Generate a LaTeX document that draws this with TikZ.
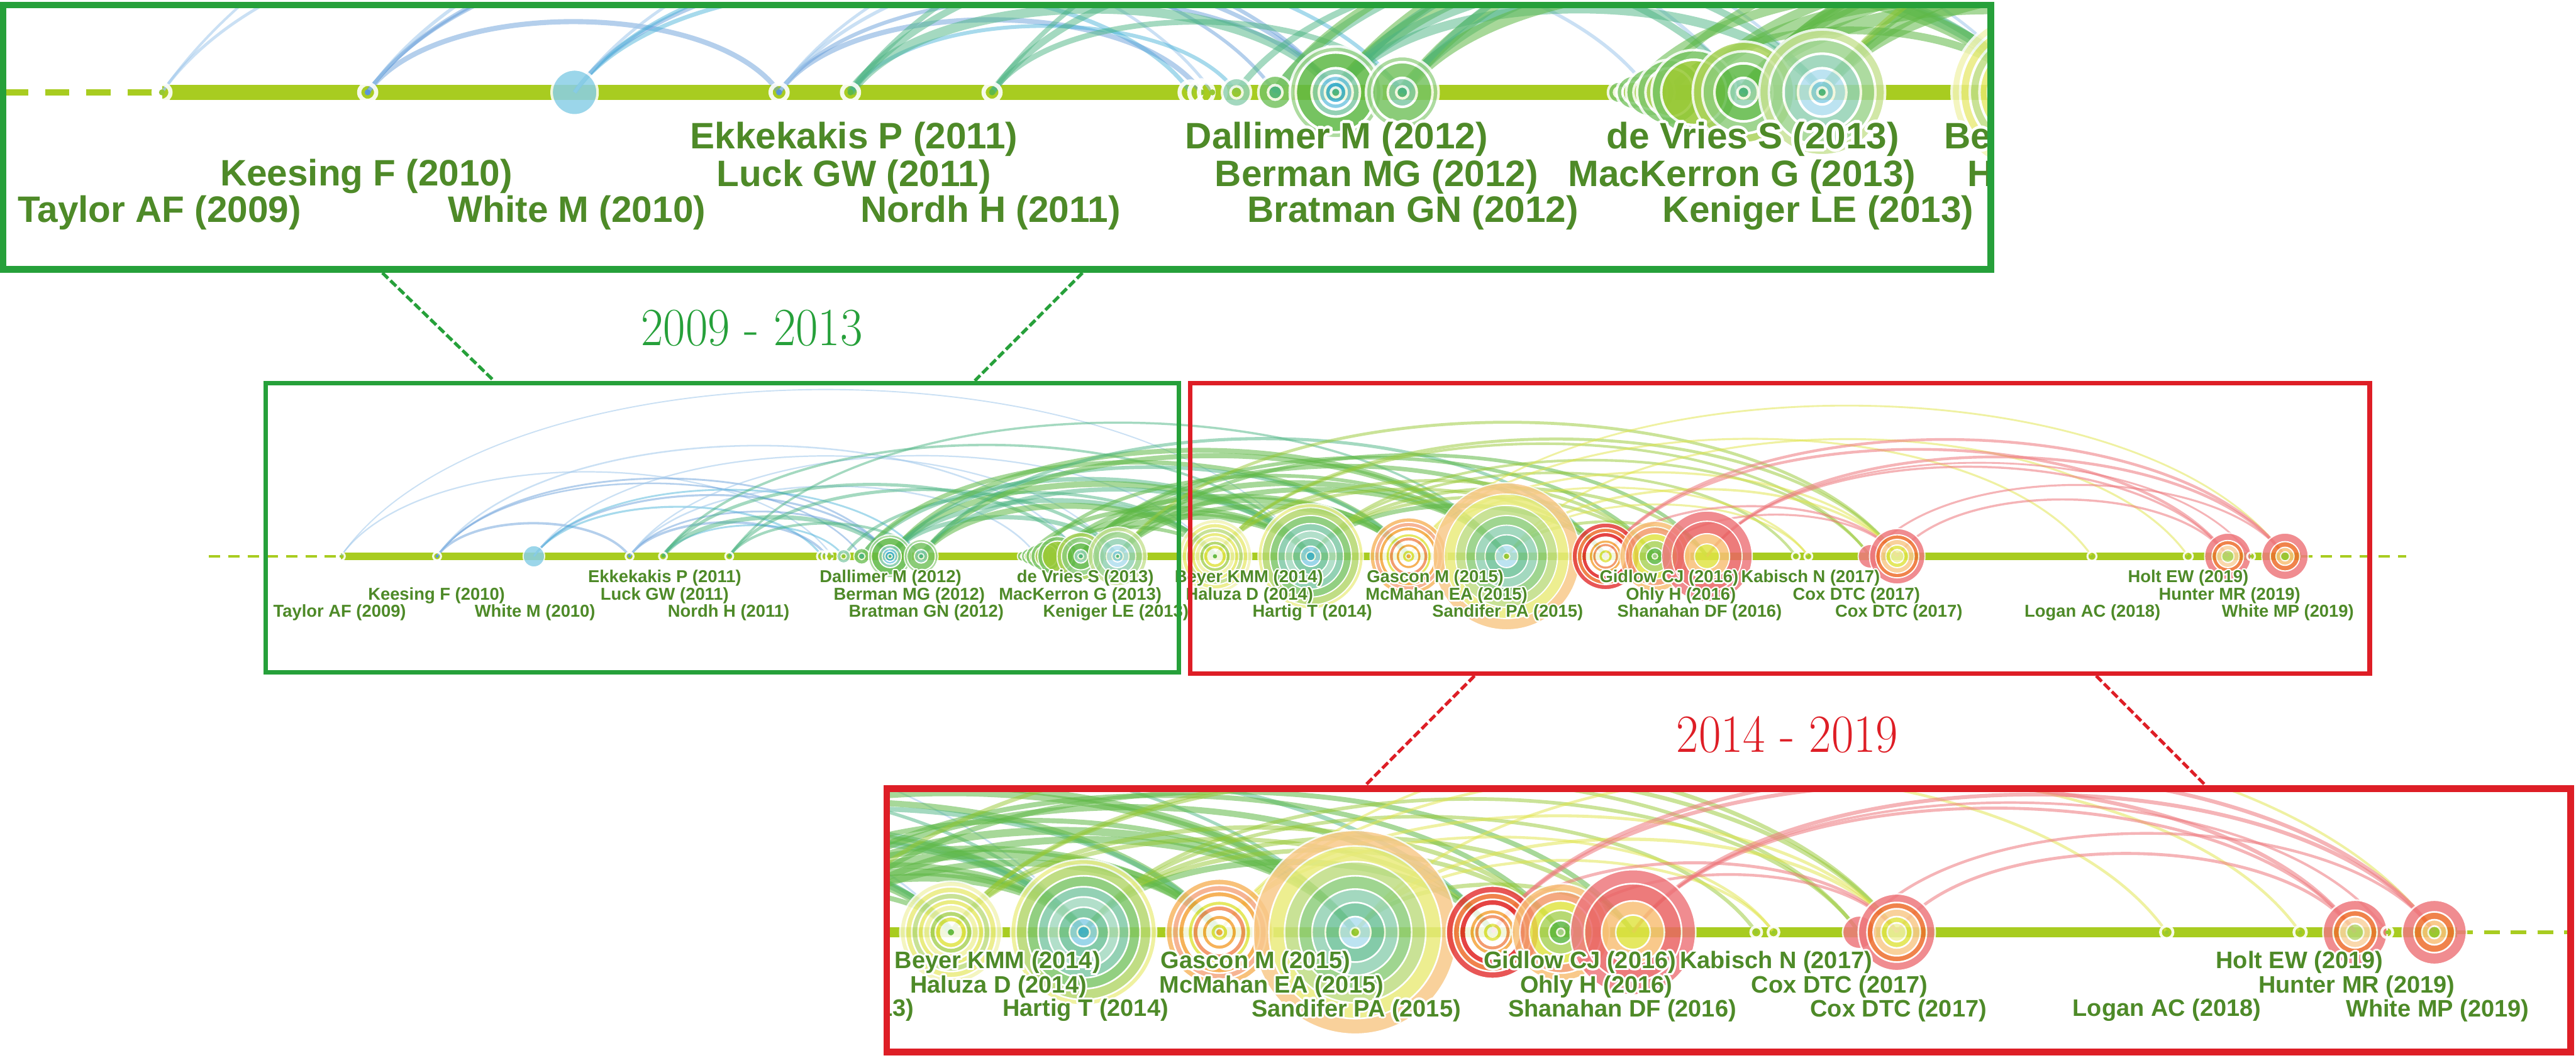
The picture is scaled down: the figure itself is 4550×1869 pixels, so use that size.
\documentclass[tikz,border=0pt]{standalone}
\usepackage{fontspec}
\usepackage[copies]{contour}
\newfontfamily\lblfont{Liberation Sans}
\usetikzlibrary{calc}
\contourlength{0.7pt}

\definecolor{tlgreen}{RGB}{38,160,58}
\definecolor{tlred}{RGB}{222,30,38}
\definecolor{lblgreen}{RGB}{78,138,40}
\definecolor{axislime}{RGB}{168,204,32}
\definecolor{y09}{RGB}{160,200,235}
\definecolor{y10}{RGB}{90,150,215}
\definecolor{y11}{RGB}{60,175,215}
\definecolor{y12}{RGB}{75,180,130}
\definecolor{y13}{RGB}{95,185,70}
\definecolor{y14}{RGB}{150,200,50}
\definecolor{y15}{RGB}{225,228,70}
\definecolor{y16}{RGB}{245,165,60}
\definecolor{y17}{RGB}{238,110,45}
\definecolor{y18}{RGB}{225,35,35}
\definecolor{y19}{RGB}{238,120,125}

\tikzset{
  zoombox/.style={draw=#1, rectangle, inner sep=0pt},
  zoomlink/.style={draw=#1, line width=1.6pt, dash pattern=on 4pt off 1.6pt},
  yearlbl/.style={font=\fontsize{27}{30}\selectfont, inner sep=0pt},
  reflbl/.style={font=\lblfont\bfseries\fontsize{8.65}{9}\selectfont,
    text=lblgreen, inner sep=0pt},
  axisbar/.style={draw=axislime, line width=3.6pt*\tls},
  axisdash/.style={draw=axislime, line width=1.5pt*\tls,
    dash pattern=on \dshon pt off \dshoff pt},
  arclblue/.style={draw=y09, draw opacity=0.55},
  arcblue/.style={draw=y10, draw opacity=0.45},
  arccyan/.style={draw=y11, draw opacity=0.45},
  arcteal/.style={draw=y12, draw opacity=0.5},
  arcgreen/.style={draw=y13, draw opacity=0.55},
  arclime/.style={draw=y14, draw opacity=0.5},
  arcyellow/.style={draw=y15, draw opacity=0.5},
  arcpink/.style={draw=y19, draw opacity=0.55},
}

\newcommand\tls{1}
% citation link between two nodes on the time line
\newcommand\citearc[4]{%
  \draw[#1, line width=#4pt*\tls] (#2)
    .. controls ($(#2)!0.28!55:(#3)$) and ($(#3)!0.28!-55:(#2)$) .. (#3);}
% tree-ring node, rings listed outside in
\newcommand\ringnode[2]{%
  \begin{scope}[transparency group, opacity=0.85]
    \foreach \r/\c in {#2}{
      \fill[\c] (#1) circle[radius=\r];
      \draw[white, line width=0.6pt*\tls] (#1) circle[radius=\r];
    }
  \end{scope}}
\newcommand\smallnode[3]{%
  \fill[#3] (#1) circle[radius=2.5];
  \draw[white, line width=1pt*\tls, opacity=0.9] (#1) circle[radius=#2];}

\newcommand\timeline{%
  \pgfmathsetmacro\dshon{5.7*\tls}\pgfmathsetmacro\dshoff{4*\tls}%
  \coordinate (axL) at (369,983);
  \coordinate (axE) at (4065,983);
  \coordinate (axR) at (4250,983);
  \foreach \n/\x in {taylor/602, keesing/772, whitem/943, ekkek/1112,
      luck/1171, nordh/1288, d1/1452, d2/1461, d3/1470, d4/1490, d5/1522,
      dallimer/1572, berman/1627, v1/1806, v2/1818, v3/1832, v4/1848,
      v5/1868, devries/1909, keniger/1974, beyer/2146, hartig/2315,
      gascon/2488, sandifer/2661, gidlow/2836, ohly/2923, shanahan/3015,
      s1/3172, s2/3194, kabisch/3303, cox/3351, logan/3695, holt/3865,
      hunter/3935, h2/3976, whitemp/4036}
    \coordinate (\n) at (\x,983);

  % time axis
  \draw[axisdash] (axL) -- (taylor);
  \draw[axisbar] (taylor) -- (axE);
  \draw[axisdash] (axE) -- (axR);

  % co-citation links
  \citearc{arclblue}{taylor}{d3}{0.7}
  \citearc{arclblue}{taylor}{hartig}{0.6}
  \citearc{arcblue}{keesing}{ekkek}{1.2}
  \citearc{arcblue}{keesing}{d5}{0.8}
  \citearc{arcblue}{keesing}{dallimer}{0.9}
  \citearc{arclblue}{keesing}{devries}{0.8}
  \citearc{arccyan}{whitem}{d1}{1.0}
  \citearc{arcblue}{whitem}{dallimer}{1.0}
  \citearc{arccyan}{whitem}{berman}{0.9}
  \citearc{arclblue}{whitem}{keniger}{0.7}
  \citearc{arcblue}{ekkek}{d2}{1.2}
  \citearc{arcblue}{ekkek}{dallimer}{0.9}
  \citearc{arclblue}{ekkek}{v3}{0.8}
  \citearc{arclblue}{ekkek}{beyer}{0.7}
  \citearc{arccyan}{luck}{d4}{0.9}
  \citearc{arcteal}{luck}{dallimer}{2.2}
  \citearc{arcteal}{luck}{devries}{1.6}
  \citearc{arcteal}{luck}{hartig}{1.2}
  \citearc{arcteal}{nordh}{berman}{1.3}
  \citearc{arcteal}{nordh}{keniger}{1.6}
  \citearc{arcteal}{nordh}{sandifer}{1.1}
  \citearc{arcteal}{d4}{beyer}{1.5}
  \citearc{arcteal}{d5}{hartig}{2.2}
  \citearc{arcgreen}{d5}{gascon}{2.2}
  \citearc{arcgreen}{dallimer}{hartig}{3}
  \citearc{arcgreen}{dallimer}{sandifer}{2.5}
  \citearc{arcteal}{dallimer}{beyer}{2.4}
  \citearc{arcteal}{dallimer}{gascon}{1.8}
  \citearc{arcteal}{dallimer}{keniger}{2.2}
  \citearc{arcgreen}{berman}{sandifer}{2.5}
  \citearc{arcteal}{berman}{hartig}{2.2}
  \citearc{arcgreen}{berman}{beyer}{3}
  \citearc{arcteal}{berman}{gidlow}{1.6}
  \citearc{arcgreen}{v2}{hartig}{2.2}
  \citearc{arcgreen}{v3}{sandifer}{1.8}
  \citearc{arcgreen}{v5}{hartig}{2.6}
  \citearc{arcgreen}{v5}{gascon}{2.2}
  \citearc{arcgreen}{devries}{hartig}{3}
  \citearc{arcgreen}{devries}{gascon}{3.2}
  \citearc{arcgreen}{devries}{sandifer}{2.8}
  \citearc{arcgreen}{devries}{gidlow}{2.2}
  \citearc{arcgreen}{devries}{ohly}{1.8}
  \citearc{arcgreen}{keniger}{sandifer}{2.5}
  \citearc{arcgreen}{keniger}{shanahan}{1.8}
  \citearc{arclime}{keniger}{cox}{1.5}
  \citearc{arcgreen}{keniger}{gascon}{2.5}
  \citearc{arcgreen}{v4}{beyer}{1.8}
  \citearc{arclime}{beyer}{ohly}{1.6}
  \citearc{arclime}{beyer}{gidlow}{1.6}
  \citearc{arclime}{beyer}{kabisch}{1.3}
  \citearc{arclime}{beyer}{cox}{1.5}
  \citearc{arclime}{hartig}{ohly}{1.6}
  \citearc{arclime}{hartig}{shanahan}{1.6}
  \citearc{arclime}{hartig}{s1}{1.3}
  \citearc{arclime}{hartig}{kabisch}{1.3}
  \citearc{arcgreen}{hartig}{gidlow}{2.2}
  \citearc{arcyellow}{gascon}{s2}{1}
  \citearc{arcyellow}{gascon}{cox}{1.1}
  \citearc{arcyellow}{gascon}{logan}{1}
  \citearc{arclime}{sandifer}{shanahan}{1.5}
  \citearc{arcyellow}{sandifer}{s2}{1}
  \citearc{arcyellow}{sandifer}{cox}{1.2}
  \citearc{arcyellow}{sandifer}{holt}{1}
  \citearc{arcyellow}{gascon}{whitemp}{0.9}
  \citearc{arcpink}{gidlow}{cox}{1.1}
  \citearc{arcpink}{gidlow}{hunter}{1.4}
  \citearc{arcpink}{gidlow}{whitemp}{1.4}
  \citearc{arcpink}{shanahan}{whitemp}{1.4}
  \citearc{arcpink}{shanahan}{hunter}{1.1}
  \citearc{arcpink}{cox}{hunter}{1.1}
  \citearc{arcpink}{ohly}{cox}{1}
  \citearc{arcpink}{kabisch}{whitemp}{1}
  \citearc{arcpink}{shanahan}{h2}{0.9}

  % references
  \smallnode{taylor}{7}{y14}
  \smallnode{keesing}{7}{y10}
  \ringnode{whitem}{19/y11!60}
  \smallnode{ekkek}{7}{y10}
  \smallnode{luck}{7}{y13}
  \smallnode{nordh}{7}{y13}
  \smallnode{d1}{9}{y14}
  \smallnode{d2}{10}{y14}
  \smallnode{d3}{11}{y14}
  \ringnode{d4}{12/y12!60, 5/y14}
  \ringnode{d5}{14/y13!85, 6/y12}
  \ringnode{dallimer}{38/y13!60, 33/y13, 20/y12!70, 14/y11!70, 9/y11, 4/y12}
  \ringnode{berman}{30/y13!60, 25/y13!85, 12/y12!70, 5/y12}
  \ringnode{v1}{9/y13!80, 4/white}
  \ringnode{v2}{14/y13!80, 9/y14}
  \ringnode{v3}{20/y13!80, 14/y14!80}
  \ringnode{v4}{27/y13!80, 20/y14!80}
  \ringnode{v5}{35/y13!85, 27/y14}
  \ringnode{devries}{42/y14!80, 34/y13!70, 24/y13, 12/y12!60, 5/y12}
  \ringnode{keniger}{52/y14!50, 44/y13!60, 32/y12!60, 20/y11!40, 10/y11!60, 4/y12}
  \ringnode{beyer}{65/y15!40, 58/y15!70, 50/y14!60, 42/y15!80, 35/y15!50,
    27/y14!80, 20/y15, 13/white, 5/y13}
  \ringnode{hartig}{93/y15!60, 86/y14!70, 72/y13!80, 58/y12!70, 45/y12!50,
    32/y12!80, 18/y11!60, 8/y11}
  \ringnode{gascon}{68/y16!80, 60/y17!60, 52/y16, 45/white, 40/y15,
    34/y17!80, 27/white, 22/y16, 16/white, 11/y15, 5/y16}
  \ringnode{sandifer}{130/y16!60, 110/y15!70, 90/y14!60, 72/y13!70,
    55/y12!60, 38/y12!80, 20/y11!40, 6/y14}
  \ringnode{gidlow}{59/y18!90, 50/y17, 42/y18, 34/white, 29/y16, 23/y17!80,
    17/white, 12/y15, 6/white}
  \ringnode{ohly}{62/y16!70, 52/y17!70, 40/y15, 28/y14!80, 15/y13, 5/y13!60}
  \ringnode{shanahan}{80/y19, 62/y18!70, 40/y16!70, 22/y15}
  \smallnode{s1}{7}{y14}
  \smallnode{s2}{7}{y14}
  \ringnode{kabisch}{21/y19}
  \ringnode{cox}{49/y19, 38/y17, 30/y16!60, 20/y15, 12/y15!50}
  \smallnode{logan}{8}{y14}
  \smallnode{holt}{8}{y14}
  \ringnode{hunter}{41/y19, 28/y17, 20/y16!50, 11/y14!70}
  \smallnode{h2}{7}{y14}
  \ringnode{whitemp}{41/y19, 26/y17, 16/y16!70, 8/y14}

  % labels
  \foreach \n/\x/\y/\t in {
      ekkek/1174/1023/Ekkekakis P (2011), dallimer/1573/1023/Dallimer M (2012),
      devries/1917/1023/de Vries S (2013), beyer/2206/1023/Beyer KMM (2014),
      gascon/2535/1023/Gascon M (2015), gidlow/2948/1023/Gidlow CJ (2016),
      kabisch/3198/1023/Kabisch N (2017), holt/3865/1023/Holt EW (2019),
      keesing/771/1054/Keesing F (2010), luck/1174/1054/Luck GW (2011),
      berman/1606/1054/Berman MG (2012), mackerron/1908/1054/MacKerron G (2013),
      haluza/2207/1054/Haluza D (2014), mcmahan/2555/1054/McMahan EA (2015),
      ohly/2969/1054/Ohly H (2016), coxa/3279/1054/Cox DTC (2017),
      hunter/3938/1054/Hunter MR (2019),
      taylor/600/1084/Taylor AF (2009), whitem/945/1084/White M (2010),
      nordh/1287/1084/Nordh H (2011), bratman/1636/1084/Bratman GN (2012),
      keniger/1971/1084/Keniger LE (2013), hartig/2318/1084/Hartig T (2014),
      sandifer/2663/1084/Sandifer PA (2015), shanahan/3002/1084/Shanahan DF (2016),
      coxb/3354/1084/Cox DTC (2017), logan/3696/1084/Logan AC (2018),
      whitemp/4041/1084/White MP (2019)}
    \node[reflbl] (l-\n) at (\x,\y) {\contour{white}{\t}};
}

\begin{document}
\begin{tikzpicture}[x=0.01cm, y=-0.01cm]
  \fill[white] (0,0) rectangle (4550,1869);
  \useasboundingbox (0,0) rectangle (4550,1869);

  % whole time line
  \begin{scope}[name prefix=mid-]
    \timeline
  \end{scope}

  % enlarged 2009 - 2013
  \begin{scope}
    \clip (6,9) rectangle (3515,476);
    \begin{scope}[name prefix=top-, shift={(-1000.5,-1937.7)}, scale=2.137,
        transform shape]
      \def\tls{2.137}
      \timeline
    \end{scope}
  \end{scope}

  % enlarged 2014 - 2019
  \begin{scope}
    \clip (1567,1394) rectangle (4540,1859);
    \begin{scope}[name prefix=bot-, shift={(-1295.4,284.6)}, scale=1.386,
        transform shape]
      \def\tls{1.386}
      \timeline
    \end{scope}
  \end{scope}

  % frames
  \node[zoombox=tlgreen, line width=3.4pt, minimum width=35.09cm,
    minimum height=4.67cm] (boxtop) at (1760.5,242.5) {};
  \node[zoombox=tlgreen, line width=2.3pt, minimum width=16.12cm,
    minimum height=5.11cm] (boxearly) at (1276,932.5) {};
  \node[zoombox=tlred, line width=2.3pt, minimum width=20.82cm,
    minimum height=5.13cm] (boxlate) at (3144,933.5) {};
  \node[zoombox=tlred, line width=3.4pt, minimum width=29.73cm,
    minimum height=4.65cm] (boxbot) at (3053.5,1626.5) {};

  % zoom guides
  \coordinate (gA) at ($(boxtop.south west)!0.192!(boxtop.south east)$);
  \coordinate (gB) at ($(boxearly.north west)!0.251!(boxearly.north east)$);
  \coordinate (gC) at ($(boxtop.south west)!0.543!(boxtop.south east)$);
  \coordinate (gD) at ($(boxearly.north west)!0.775!(boxearly.north east)$);
  \coordinate (rA) at ($(boxlate.south west)!0.242!(boxlate.south east)$);
  \coordinate (rB) at ($(boxbot.north west)!0.285!(boxbot.north east)$);
  \coordinate (rC) at ($(boxlate.south west)!0.767!(boxlate.south east)$);
  \coordinate (rD) at ($(boxbot.north west)!0.782!(boxbot.north east)$);
  \draw[zoomlink=tlgreen] (gA) -- (gB);
  \draw[zoomlink=tlgreen] (gC) -- (gD);
  \draw[zoomlink=tlred] (rA) -- (rB);
  \draw[zoomlink=tlred] (rC) -- (rD);

  \node[yearlbl, text=tlgreen] (yr-early) at (1328,580)
    {\scalebox{0.9}[1]{2009 - 2013}};
  \node[yearlbl, text=tlred] (yr-late) at (3157,1298)
    {\scalebox{0.9}[1]{2014 - 2019}};
\end{tikzpicture}
\end{document}
